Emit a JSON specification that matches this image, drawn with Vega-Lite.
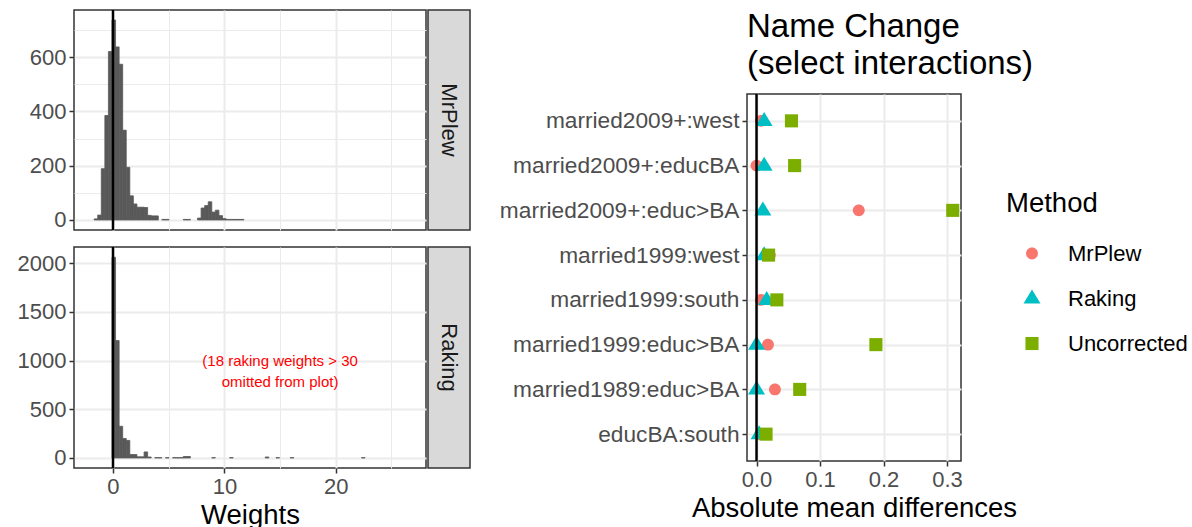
{
  "$schema": "https://vega.github.io/schema/vega-lite/v6.json",
  "padding": {"left": 15, "top": 8, "right": 0, "bottom": 0},
  "config": {
    "font": "Liberation Sans",
    "view": {"stroke": "#333333", "strokeWidth": 1.5},
    "axis": {
      "domain": false,
      "tickColor": "#333333",
      "tickWidth": 1.5,
      "tickSize": 5,
      "labelPadding": 3,
      "labelColor": "#4D4D4D",
      "labelFontSize": 22,
      "labelLimit": 0,
      "gridColor": "#EBEBEB",
      "titleFontSize": 27.5,
      "titleFontWeight": "normal",
      "titleColor": "#000000",
      "titlePadding": 4
    }
  },
  "datasets": {
    "mrplew": [
      {"b0": -1.69, "b1": -1.37, "n": 4},
      {"b0": -1.37, "b1": -1.05, "n": 18},
      {"b0": -1.05, "b1": -0.73, "n": 189},
      {"b0": -0.73, "b1": -0.41, "n": 385},
      {"b0": -0.41, "b1": -0.09, "n": 621},
      {"b0": -0.09, "b1": 0.23, "n": 737},
      {"b0": 0.23, "b1": 0.55, "n": 638},
      {"b0": 0.55, "b1": 0.87, "n": 574},
      {"b0": 0.87, "b1": 1.19, "n": 331},
      {"b0": 1.19, "b1": 1.51, "n": 194},
      {"b0": 1.51, "b1": 1.83, "n": 89},
      {"b0": 1.83, "b1": 2.15, "n": 59},
      {"b0": 2.15, "b1": 2.47, "n": 47},
      {"b0": 2.47, "b1": 2.79, "n": 47},
      {"b0": 2.79, "b1": 3.11, "n": 46},
      {"b0": 3.11, "b1": 3.43, "n": 17},
      {"b0": 3.43, "b1": 3.75, "n": 15},
      {"b0": 3.75, "b1": 4.07, "n": 15},
      {"b0": 4.39, "b1": 4.71, "n": 2},
      {"b0": 4.71, "b1": 5.03, "n": 2},
      {"b0": 6.31, "b1": 6.63, "n": 2},
      {"b0": 6.63, "b1": 6.95, "n": 2},
      {"b0": 7.59, "b1": 7.91, "n": 7},
      {"b0": 7.91, "b1": 8.23, "n": 44},
      {"b0": 8.23, "b1": 8.55, "n": 53},
      {"b0": 8.55, "b1": 8.87, "n": 67},
      {"b0": 8.87, "b1": 9.19, "n": 29},
      {"b0": 9.19, "b1": 9.51, "n": 36},
      {"b0": 9.51, "b1": 9.83, "n": 16},
      {"b0": 9.83, "b1": 10.15, "n": 5},
      {"b0": 10.15, "b1": 10.47, "n": 2},
      {"b0": 10.47, "b1": 10.79, "n": 2},
      {"b0": 10.79, "b1": 11.11, "n": 2},
      {"b0": 11.11, "b1": 11.43, "n": 2},
      {"b0": 11.43, "b1": 11.75, "n": 2}
    ],
    "raking": [
      {"b0": -0.09, "b1": 0.23, "n": 2060},
      {"b0": 0.23, "b1": 0.55, "n": 1205},
      {"b0": 0.55, "b1": 0.87, "n": 325},
      {"b0": 0.87, "b1": 1.19, "n": 200},
      {"b0": 1.19, "b1": 1.51, "n": 180},
      {"b0": 1.51, "b1": 1.83, "n": 35},
      {"b0": 1.83, "b1": 2.15, "n": 35},
      {"b0": 2.15, "b1": 2.47, "n": 12},
      {"b0": 2.47, "b1": 2.79, "n": 12},
      {"b0": 2.79, "b1": 3.11, "n": 62},
      {"b0": 3.11, "b1": 3.43, "n": 10},
      {"b0": 3.75, "b1": 4.07, "n": 3},
      {"b0": 4.07, "b1": 4.39, "n": 3},
      {"b0": 4.71, "b1": 5.03, "n": 3},
      {"b0": 5.35, "b1": 5.67, "n": 3},
      {"b0": 5.67, "b1": 5.99, "n": 3},
      {"b0": 5.99, "b1": 6.31, "n": 3},
      {"b0": 6.31, "b1": 6.63, "n": 15},
      {"b0": 6.63, "b1": 6.95, "n": 15},
      {"b0": 8.87, "b1": 9.19, "n": 3},
      {"b0": 10.47, "b1": 10.79, "n": 3},
      {"b0": 13.67, "b1": 13.99, "n": 10},
      {"b0": 14.63, "b1": 14.95, "n": 3},
      {"b0": 15.91, "b1": 16.23, "n": 3},
      {"b0": 22.31, "b1": 22.63, "n": 3}
    ],
    "diffs": [
      {"term": "married2009+:west", "method": "MrPlew", "value": 0.007},
      {"term": "married2009+:educBA", "method": "MrPlew", "value": 0.0},
      {"term": "married2009+:educ>BA", "method": "MrPlew", "value": 0.161},
      {"term": "married1999:west", "method": "MrPlew", "value": 0.021},
      {"term": "married1999:south", "method": "MrPlew", "value": 0.007},
      {"term": "married1999:educ>BA", "method": "MrPlew", "value": 0.018},
      {"term": "married1989:educ>BA", "method": "MrPlew", "value": 0.029},
      {"term": "educBA:south", "method": "MrPlew", "value": 0.006},
      {"term": "married2009+:west", "method": "Raking", "value": 0.012},
      {"term": "married2009+:educBA", "method": "Raking", "value": 0.012},
      {"term": "married2009+:educ>BA", "method": "Raking", "value": 0.010},
      {"term": "married1999:west", "method": "Raking", "value": 0.012},
      {"term": "married1999:south", "method": "Raking", "value": 0.016},
      {"term": "married1999:educ>BA", "method": "Raking", "value": 0.0},
      {"term": "married1989:educ>BA", "method": "Raking", "value": 0.0},
      {"term": "educBA:south", "method": "Raking", "value": 0.004},
      {"term": "married2009+:west", "method": "Uncorrected", "value": 0.055},
      {"term": "married2009+:educBA", "method": "Uncorrected", "value": 0.060},
      {"term": "married2009+:educ>BA", "method": "Uncorrected", "value": 0.309},
      {"term": "married1999:west", "method": "Uncorrected", "value": 0.019},
      {"term": "married1999:south", "method": "Uncorrected", "value": 0.032},
      {"term": "married1999:educ>BA", "method": "Uncorrected", "value": 0.188},
      {"term": "married1989:educ>BA", "method": "Uncorrected", "value": 0.068},
      {"term": "educBA:south", "method": "Uncorrected", "value": 0.015}
    ]
  },
  "hconcat": [
    {
      "vconcat": [
        {
          "hconcat": [
            {
              "width": 352,
              "height": 220,
              "data": {"name": "mrplew"},
              "layer": [
                {
                  "mark": {"type": "bar", "color": "#595959", "stroke": "#595959", "strokeWidth": 0.8},
                  "encoding": {
                    "x": {
                      "field": "b0", "type": "quantitative",
                      "scale": {"domain": [-3.5, 28.1], "nice": false, "zero": false},
                      "axis": {
                        "values": [0, 5, 10, 15, 20, 25],
                        "labels": false, "ticks": false, "title": null,
                        "gridWidth": {"condition": {"test": "datum.value % 10 === 0", "value": 2}, "value": 1}
                      }
                    },
                    "x2": {"field": "b1"},
                    "y": {
                      "field": "n", "type": "quantitative",
                      "scale": {"domain": [-37, 774], "nice": false, "zero": false},
                      "axis": {
                        "values": [0, 100, 200, 300, 400, 500, 600, 700],
                        "title": null,
                        "minExtent": 58, "maxExtent": 58,
                        "labelExpr": "datum.value % 200 === 0 ? datum.label : ''",
                        "tickOpacity": {"condition": {"test": "datum.value % 200 === 0", "value": 1}, "value": 0},
                        "gridWidth": {"condition": {"test": "datum.value % 200 === 0", "value": 2}, "value": 1}
                      }
                    },
                    "y2": {"datum": 0}
                  }
                },
                {
                  "data": {"values": [{"v": 0}]},
                  "mark": {"type": "rule", "color": "#000000", "strokeWidth": 2.5},
                  "encoding": {"x": {"field": "v", "type": "quantitative"}}
                }
              ]
            },
            {
              "width": 42,
              "height": 220,
              "view": {"fill": "#D9D9D9", "stroke": "#333333", "strokeWidth": 1.5},
              "data": {"values": [{"label": "MrPlew"}]},
              "mark": {"type": "text", "angle": 90, "fontSize": 22, "color": "#1A1A1A", "align": "center", "baseline": "middle"},
              "encoding": {"text": {"field": "label"}}
            }
          ],
          "spacing": 0
        },
        {
          "hconcat": [
            {
              "width": 352,
              "height": 221,
              "data": {"name": "raking"},
              "layer": [
                {
                  "mark": {"type": "bar", "color": "#595959", "stroke": "#595959", "strokeWidth": 0.8},
                  "encoding": {
                    "x": {
                      "field": "b0", "type": "quantitative",
                      "scale": {"domain": [-3.5, 28.1], "nice": false, "zero": false},
                      "axis": {
                        "values": [0, 5, 10, 15, 20, 25],
                        "title": "Weights",
                        "format": "d",
                        "labelExpr": "datum.value % 10 === 0 ? datum.label : ''",
                        "tickOpacity": {"condition": {"test": "datum.value % 10 === 0", "value": 1}, "value": 0},
                        "gridWidth": {"condition": {"test": "datum.value % 10 === 0", "value": 2}, "value": 1}
                      }
                    },
                    "x2": {"field": "b1"},
                    "y": {
                      "field": "n", "type": "quantitative",
                      "scale": {"domain": [-103, 2165], "nice": false, "zero": false},
                      "axis": {
                        "values": [0, 250, 500, 750, 1000, 1250, 1500, 1750, 2000],
                        "title": null,
                        "format": "d",
                        "minExtent": 58, "maxExtent": 58,
                        "labelExpr": "datum.value % 500 === 0 ? datum.label : ''",
                        "tickOpacity": {"condition": {"test": "datum.value % 500 === 0", "value": 1}, "value": 0},
                        "gridWidth": {"condition": {"test": "datum.value % 500 === 0", "value": 2}, "value": 1}
                      }
                    },
                    "y2": {"datum": 0}
                  }
                },
                {
                  "data": {"values": [{"v": 0}]},
                  "mark": {"type": "rule", "color": "#000000", "strokeWidth": 2.5},
                  "encoding": {"x": {"field": "v", "type": "quantitative"}}
                },
                {
                  "data": {"values": [{"tx": 15, "ty": 1000, "note": "(18 raking weights > 30\nomitted from plot)"}]},
                  "mark": {"type": "text", "color": "#FF0000", "fontSize": 15, "lineBreak": "\n", "lineHeight": 21, "align": "center", "baseline": "middle"},
                  "encoding": {
                    "x": {"field": "tx", "type": "quantitative"},
                    "y": {"field": "ty", "type": "quantitative"},
                    "text": {"field": "note"}
                  }
                }
              ]
            },
            {
              "width": 42,
              "height": 221,
              "view": {"fill": "#D9D9D9", "stroke": "#333333", "strokeWidth": 1.5},
              "data": {"values": [{"label": "Raking"}]},
              "mark": {"type": "text", "angle": 90, "fontSize": 22, "color": "#1A1A1A", "align": "center", "baseline": "middle"},
              "encoding": {"text": {"field": "label"}}
            }
          ],
          "spacing": 0
        }
      ],
      "spacing": 13
    },
    {
      "bounds": "flush",
      "spacing": 4,
      "vconcat": [
        {
          "width": 214,
          "height": 80,
          "view": {"stroke": null},
          "title": {
            "text": ["Name Change", "(select interactions)"],
            "anchor": "start",
            "frame": "group",
            "fontSize": 33,
            "fontWeight": "normal",
            "lineHeight": 37,
            "color": "#000000",
            "offset": -71
          },
          "data": {"values": [{"blank": ""}]},
          "mark": {"type": "text"},
          "encoding": {"text": {"field": "blank"}}
        },
        {
          "width": 214,
          "height": 367,
          "layer": [
            {
              "data": {"name": "diffs"},
              "mark": {"type": "point", "filled": true, "opacity": 1, "size": 289, "strokeWidth": 0},
              "encoding": {
                "x": {
                  "field": "value", "type": "quantitative",
                  "scale": {"domain": [-0.015, 0.322], "nice": false, "zero": false},
                  "axis": {
                    "values": [0, 0.05, 0.1, 0.15, 0.2, 0.25, 0.3],
                    "title": "Absolute mean differences",
                    "format": ".1f",
                    "labelExpr": "abs(datum.value * 10 - round(datum.value * 10)) < 0.001 ? datum.label : ''",
                    "tickOpacity": {"condition": {"test": "abs(datum.value * 10 - round(datum.value * 10)) < 0.001", "value": 1}, "value": 0},
                    "gridWidth": {"condition": {"test": "abs(datum.value * 10 - round(datum.value * 10)) < 0.001", "value": 2}, "value": 1}
                  }
                },
                "y": {
                  "field": "term", "type": "nominal",
                  "sort": ["married2009+:west", "married2009+:educBA", "married2009+:educ>BA", "married1999:west", "married1999:south", "married1999:educ>BA", "married1989:educ>BA", "educBA:south"],
                  "scale": {"type": "point", "padding": 0.6},
                  "axis": {"title": null, "grid": true, "gridWidth": 2, "labelFontSize": 22.7}
                },
                "color": {
                  "field": "method", "type": "nominal",
                  "scale": {"domain": ["MrPlew", "Raking", "Uncorrected"], "range": ["#F8766D", "#00BFC4", "#7CAE00"]},
                  "legend": {
                    "title": "Method",
                    "orient": "none",
                    "legendX": 932,
                    "legendY": 180,
                    "padding": 0,
                    "titleFontSize": 27.5,
                    "titleFontWeight": "normal",
                    "titleColor": "#000000",
                    "titlePadding": 25,
                    "labelFontSize": 22,
                    "labelColor": "#000000",
                    "labelOffset": 25,
                    "symbolOffset": 15,
                    "symbolSize": 289,
                    "symbolStrokeWidth": 0,
                    "rowPadding": 23
                  }
                },
                "shape": {
                  "field": "method", "type": "nominal",
                  "scale": {
                    "domain": ["MrPlew", "Raking", "Uncorrected"],
                    "range": [
                      "M0,-0.7A0.7,0.7,0,1,1,0,0.7A0.7,0.7,0,1,1,0,-0.7Z",
                      "M0,-1.05L1,0.6L-1,0.6Z",
                      "M-0.77,-0.77H0.77V0.77H-0.77Z"
                    ]
                  }
                }
              }
            },
            {
              "data": {"values": [{"v": 0}]},
              "mark": {"type": "rule", "color": "#000000", "strokeWidth": 2.5},
              "encoding": {"x": {"field": "v", "type": "quantitative"}}
            }
          ]
        }
      ]
    }
  ],
  "spacing": 27
}
